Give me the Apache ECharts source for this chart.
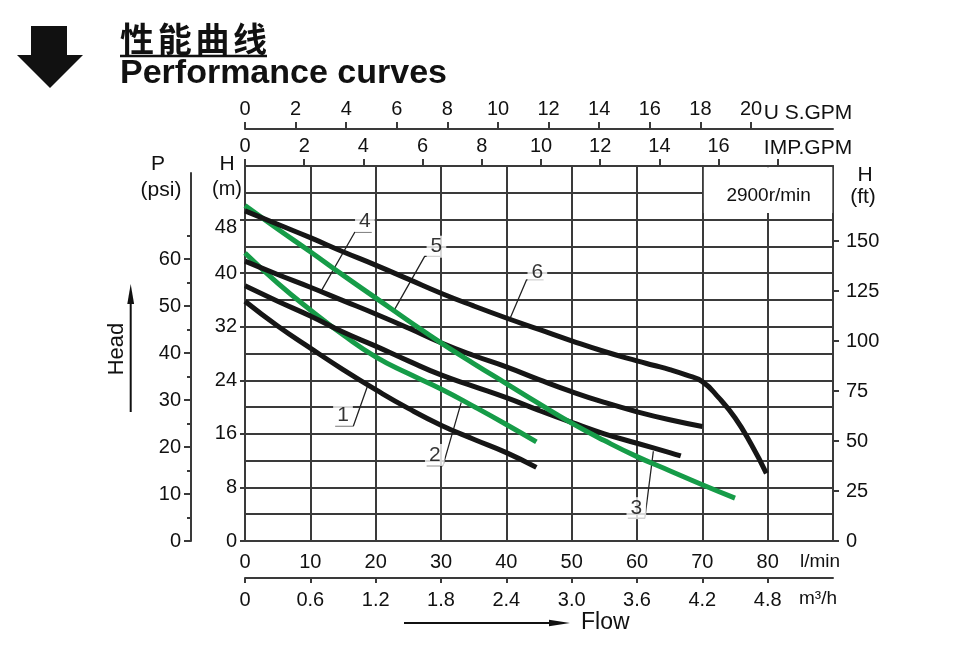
<!DOCTYPE html>
<html><head><meta charset="utf-8">
<script src="https://cdn.jsdelivr.net/npm/echarts@6/dist/echarts.min.js"></script>
<style>html,body{margin:0;padding:0;background:#fff}#c{width:960px;height:647px}</style>
</head><body><div id="c"></div>
<script>
// ---- data: flow (l/min) and head (m) per curve ----
const q1 = [0, 5, 10, 15, 20, 25, 30, 35, 40, 44.6];
const h1 = [35.8, 32.1, 28.8, 25.6, 22.6, 19.8, 17.3, 15.2, 13.2, 11.0];
const q2 = [0, 5, 10, 15, 20, 25, 30, 35, 40, 44.6];
const h2 = [43.0, 38.5, 34.5, 30.8, 27.5, 25.0, 22.7, 20.1, 17.4, 14.8];
const q3 = [0, 5, 10, 15, 20, 25, 30, 35, 40, 45, 50, 55, 60, 65, 66.7];
const h3 = [38.1, 35.8, 33.6, 31.2, 29.1, 26.9, 24.8, 23.1, 21.4, 19.5, 17.7, 16.0, 14.6, 13.2, 12.7];
const q4 = [0, 5, 10, 15, 20, 25, 30, 35, 40, 45, 50, 55, 60, 65, 70];
const h4 = [41.8, 39.8, 37.9, 35.9, 33.9, 31.8, 29.6, 27.7, 26.0, 24.1, 22.3, 20.7, 19.3, 18.1, 17.1];
const q5 = [0, 5, 10, 15, 20, 25, 30, 35, 40, 45, 50, 55, 60, 65, 70, 75];
const h5 = [50.1, 46.6, 43.2, 39.7, 36.3, 32.9, 29.6, 26.5, 23.5, 20.5, 17.6, 15.0, 12.6, 10.5, 8.4, 6.4];
const q6 = [0, 5, 10, 15, 20, 25, 30, 35, 40, 45, 50, 55, 60, 62.5, 65, 67.5, 70, 72.5, 75, 77.5, 79.8];
const h6 = [49.3, 47.3, 45.3, 43.2, 41.2, 39.1, 37.0, 35.1, 33.3, 31.6, 29.9, 28.3, 26.9, 26.25, 25.6, 24.8, 23.8, 21.4, 18.4, 14.4, 10.1];
const curveNames = ['1', '2', '3', '4', '5', '6'];

// curve tags (number label and its leader line, in l/min & m)
const tagNames = ['1', '2', '3', '4', '5', '6'];
const tagTextAt = [[15.0, 18.8], [29.05, 12.85], [59.9, 4.9], [18.35, 47.7], [29.3, 43.95], [44.75, 40.2]];
const tagLeaders = [
  [[13.8, 17.2], [16.6, 17.2], [18.7, 23.0]],
  [[27.8, 11.25], [30.3, 11.25], [33.1, 20.7]],
  [[58.6, 3.4], [61.2, 3.4], [62.5, 13.4]],
  [[19.4, 46.1], [16.8, 46.1], [11.7, 37.4]],
  [[30.1, 42.5], [27.5, 42.5], [22.8, 34.4]],
  [[45.7, 39.0], [43.1, 39.0], [40.6, 33.3]]
];

// tick labels
const lpmTicks = [0, 10, 20, 30, 40, 50, 60, 70, 80];
const m3hTicks = [0, 0.6, 1.2, 1.8, 2.4, 3.0, 3.6, 4.2, 4.8];
const usgpmTicks = [0, 2, 4, 6, 8, 10, 12, 14, 16, 18, 20];
const impTicks = [0, 2, 4, 6, 8, 10, 12, 14, 16, 18];
const impLabels = [0, 2, 4, 6, 8, 10, 12, 14, 16];
const headMTicks = [0, 8, 16, 24, 32, 40, 48];
const headFtTicks = [0, 25, 50, 75, 100, 125, 150];
const psiTicks = [0, 10, 20, 30, 40, 50, 60];
const psiMinor = [5, 15, 25, 35, 45, 55, 65];
const speedText = '2900r/min';
const titleCn = ['性', '能', '曲', '线'];
const titleEn = 'Performance curves';

// ---- styles ----
const GRID = '#3a3a3a';
const TXT = '#111';
const FONT = 'Liberation Sans, Arial, sans-serif';
const BLACK = '#161616';
const GREEN = '#169c48';
const curveColors = [BLACK, GREEN, BLACK, BLACK, GREEN, BLACK];

const chart = echarts.init(document.getElementById('c'), null, {renderer: 'canvas'});

const curves = [[q1, h1], [q2, h2], [q3, h3], [q4, h4], [q5, h5], [q6, h6]];
const lbl = {color: TXT, fontFamily: FONT, fontSize: 20};
const noTick = {show: false};

const series = [];
curves.forEach((c, i) => {
  series.push({
    type: 'line', name: curveNames[i], xAxisIndex: 0, yAxisIndex: 0,
    data: c[0].map((q, k) => [q, c[1][k]]),
    smooth: 0.5, symbol: 'none', silent: true,
    lineStyle: {color: curveColors[i], width: 5}, z: 5
  });
});
tagLeaders.forEach((pts) => {
  series.push({
    type: 'line', xAxisIndex: 0, yAxisIndex: 0, data: pts, symbol: 'none', silent: true,
    lineStyle: {color: '#222', width: 1.3}, z: 4
  });
});
series.push({
  type: 'scatter', xAxisIndex: 0, yAxisIndex: 0, symbolSize: 1, silent: true,
  itemStyle: {color: 'rgba(0,0,0,0)'},
  data: tagNames.map((n, i) => ({name: n, value: tagTextAt[i]})),
  label: {show: true, position: 'inside', formatter: '{b}', color: '#000', fontFamily: FONT,
          fontSize: 21, textBorderWidth: 0, backgroundColor: '#fff', padding: [1, 4, 0, 4]},
  z: 6
});

chart.setOption({
  animation: false,
  backgroundColor: '#fff',
  grid: [
    {left: 245, top: 166, right: 127, bottom: 106, containLabel: false},
    {left: 191, top: 173, width: 10, bottom: 106, containLabel: false}
  ],
  xAxis: [
    { // 0: l/min grid lines
      type: 'value', gridIndex: 0, position: 'bottom', min: 0, max: 90, interval: 10,
      axisLine: {show: true, onZero: false, lineStyle: {color: GRID, width: 2}},
      axisTick: noTick, axisLabel: {show: false},
      splitLine: {show: true, lineStyle: {color: GRID, width: 2}}
    },
    { // 1: l/min labels
      type: 'value', gridIndex: 0, position: 'bottom', min: 0, max: 90, interval: 10,
      axisLine: {show: false, onZero: false}, axisTick: noTick, splitLine: {show: false},
      axisLabel: Object.assign({customValues: lpmTicks, margin: 11}, lbl)
    },
    { // 2: IMP.GPM
      type: 'value', gridIndex: 0, position: 'top', min: 0, max: 588 / 29.6, interval: 2,
      axisLine: {show: true, onZero: false, lineStyle: {color: GRID, width: 2}},
      axisTick: {show: true, customValues: impTicks, length: 7, lineStyle: {color: GRID, width: 2}},
      splitLine: {show: false},
      axisLabel: Object.assign({customValues: impLabels, margin: 10}, lbl)
    },
    { // 3: U S.GPM
      type: 'value', gridIndex: 0, position: 'top', offset: 37, min: 0, max: 588 / 25.3, interval: 2,
      axisLine: {show: true, onZero: false, lineStyle: {color: GRID, width: 2}},
      axisTick: {show: true, customValues: usgpmTicks, length: 7, lineStyle: {color: GRID, width: 2}},
      splitLine: {show: false},
      axisLabel: Object.assign({customValues: usgpmTicks, margin: 10}, lbl)
    },
    { // 4: m3/h
      type: 'value', gridIndex: 0, position: 'bottom', offset: 37, min: 0, max: 5.4, interval: 0.6,
      axisLine: {show: true, onZero: false, lineStyle: {color: GRID, width: 2}},
      axisTick: {show: true, customValues: m3hTicks, length: 5, lineStyle: {color: GRID, width: 2}},
      splitLine: {show: false},
      axisLabel: Object.assign({customValues: m3hTicks, margin: 12,
        formatter: v => (v === 0 ? '0' : Number(v).toFixed(1))}, lbl)
    },
    {type: 'value', gridIndex: 1, show: false, min: 0, max: 1}
  ],
  yAxis: [
    { // 0: H (m) grid lines
      type: 'value', gridIndex: 0, position: 'left', min: 0, max: 56, interval: 4,
      axisLine: {show: true, onZero: false, lineStyle: {color: GRID, width: 2}},
      axisTick: noTick, axisLabel: {show: false},
      splitLine: {show: true, lineStyle: {color: GRID, width: 2}}
    },
    { // 1: H (m) labels and ticks
      type: 'value', gridIndex: 0, position: 'left', min: 0, max: 56, interval: 8,
      axisLine: {show: false, onZero: false}, splitLine: {show: false},
      axisTick: {show: true, customValues: headMTicks, length: 5, lineStyle: {color: GRID, width: 2}},
      axisLabel: Object.assign({customValues: headMTicks, margin: 8,
        formatter: v => (v === 48 ? '{s|48}' : String(v)),
        rich: {s: {color: TXT, fontFamily: FONT, fontSize: 20, padding: [15, 0, 0, 0]}}}, lbl)
    },
    { // 2: H (ft)
      type: 'value', gridIndex: 0, position: 'right', min: 0, max: 187.5, interval: 25,
      axisLine: {show: true, onZero: false, lineStyle: {color: GRID, width: 2}},
      axisTick: {show: true, customValues: headFtTicks, length: 6, lineStyle: {color: GRID, width: 2}},
      splitLine: {show: false},
      axisLabel: Object.assign({customValues: headFtTicks, margin: 13}, lbl)
    },
    { // 3: psi major
      type: 'value', gridIndex: 1, position: 'left', min: 0, max: 368 / 4.7, interval: 10,
      axisLine: {show: true, onZero: false, lineStyle: {color: GRID, width: 2}},
      axisTick: {show: true, customValues: psiTicks, length: 7, lineStyle: {color: GRID, width: 2}},
      splitLine: {show: false},
      axisLabel: Object.assign({customValues: psiTicks, margin: 10}, lbl)
    },
    { // 4: psi minor ticks
      type: 'value', gridIndex: 1, position: 'left', min: 0, max: 368 / 4.7, interval: 5,
      axisLine: {show: false, onZero: false},
      axisTick: {show: true, customValues: psiMinor, length: 4, lineStyle: {color: GRID, width: 2}},
      splitLine: {show: false},
      axisLabel: {show: false}
    }
  ],
  series: series
});

// decorations (titles, unit names, arrows, speed box)
const a = chart.convertToPixel({xAxisIndex: 0, yAxisIndex: 0}, [70, 56]);
const b = chart.convertToPixel({xAxisIndex: 0, yAxisIndex: 0}, [90, 49]);
const t = (x, y, text, size, extra) => Object.assign({
  type: 'text', x: x, y: y, z: 60,
  style: Object.assign({text: text, fill: TXT, font: (size || 20) + 'px ' + FONT, align: 'center', verticalAlign: 'middle'}, extra || {})
});
const graphic = [
  {type: 'polygon', z: 60, shape: {points: [[31, 26], [67, 26], [67, 55], [83, 55], [50, 88], [17, 55], [31, 55]]}, style: {fill: '#111'}},
  {type: 'line', z: 60, shape: {x1: 120, y1: 56, x2: 267, y2: 56}, style: {stroke: '#111', lineWidth: 2.6}},
  {type: 'text', x: 120, y: 74, z: 60, style: {text: titleEn, fill: '#111', font: 'bold 34px ' + FONT, align: 'left', verticalAlign: 'middle'}},
  t(158, 164, 'P', 21), t(161, 190, '(psi)', 21),
  t(227, 164, 'H', 21), t(227, 189, '(m)', 20),
  t(865, 175, 'H', 21), t(863, 197, '(ft)', 21),
  t(808, 113, 'U S.GPM', 21), t(808, 148, 'IMP.GPM', 21),
  t(820, 562, 'l/min', 19), t(818, 599, 'm³/h', 19),
  {type: 'text', x: 117, y: 349, rotation: Math.PI / 2, z: 60, style: {text: 'Head', fill: TXT, font: '22px ' + FONT, align: 'center', verticalAlign: 'middle'}},
  {type: 'line', z: 60, shape: {x1: 130.7, y1: 412, x2: 130.7, y2: 298}, style: {stroke: '#111', lineWidth: 2}},
  {type: 'polygon', z: 60, shape: {points: [[130.7, 284], [127.3, 304], [134.1, 304]]}, style: {fill: '#111'}},
  {type: 'line', z: 60, shape: {x1: 404, y1: 623, x2: 556, y2: 623}, style: {stroke: '#111', lineWidth: 2}},
  {type: 'polygon', z: 60, shape: {points: [[570, 623], [549, 619.8], [549, 626.2]]}, style: {fill: '#111'}},
  t(581, 623, 'Flow', 23, {align: 'left'}),
  {type: 'rect', z: 50, shape: {x: a[0] + 1.5, y: a[1] + 1.2, width: b[0] - a[0] - 2.2, height: b[1] - a[1] - 1.2}, style: {fill: '#fff'}},
  t((a[0] + b[0]) / 2 + 1, 196, speedText, 19)
];
titleCn.forEach((ch, i) => {
  graphic.push({type: 'text', x: 137 + i * 37.7, y: 39, z: 60,
    style: {text: ch, fill: '#111', font: 'bold 34px "Noto Sans CJK SC", sans-serif', align: 'center', verticalAlign: 'middle'}});
});
chart.setOption({graphic: graphic});
</script>
</body></html>
